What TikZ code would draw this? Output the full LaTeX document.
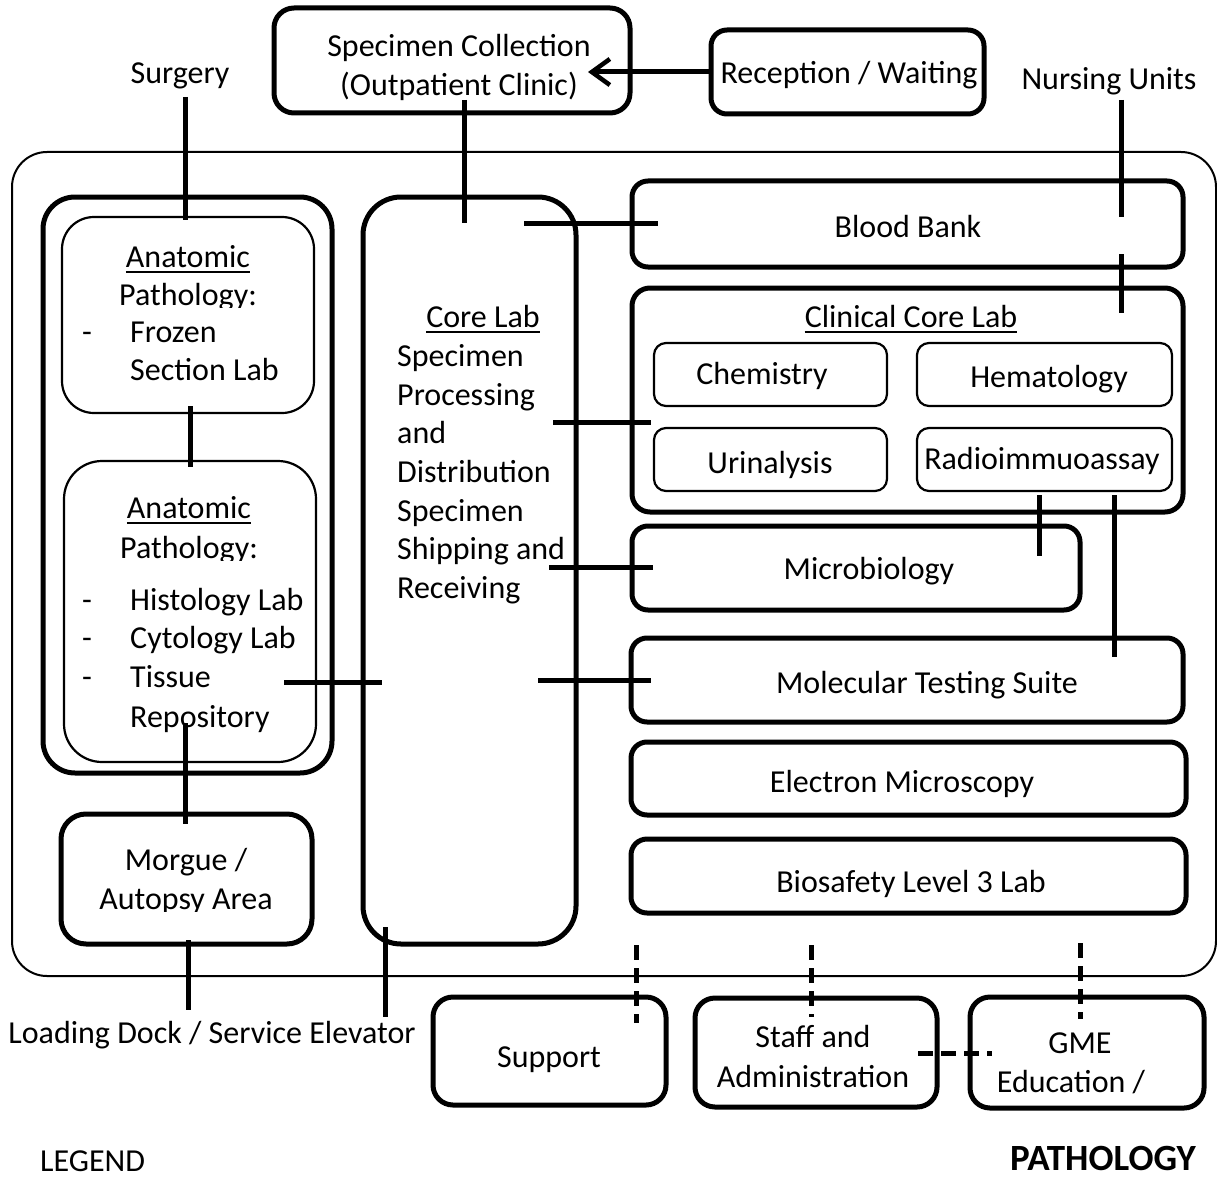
\documentclass[tikz,border=0pt]{standalone}
\usepackage{fontspec}
\setmainfont{Carlito}
\usetikzlibrary{arrows.meta}
\tikzset{
  thickbox/.style={draw, line width=5pt, inner sep=0pt, outer sep=0pt, anchor=north west},
  thinbox/.style={draw, line width=2.2pt, inner sep=0pt, outer sep=0pt, anchor=north west},
  conn/.style={line width=5pt},
  dconn/.style={line width=5pt, dash pattern=on 15pt off 8pt},
  txt/.style={inner sep=0pt, font=\fontsize{32}{39}\selectfont, anchor=base},
  txtl/.style={txt, anchor=base west},
  uline/.style={line width=2pt},
}
\begin{document}
\begin{tikzpicture}[x=1pt,y=-1pt]
\useasboundingbox (0,0) rectangle (1217,1185);
% ---------- boxes ----------
\node[draw, line width=2pt, inner sep=0pt, outer sep=0pt, anchor=north west, rounded corners=35pt, minimum width=1204pt, minimum height=824pt] (outer) at (12,152) {};
\node[thickbox, rounded corners=20pt, minimum width=356pt, minimum height=105pt] (spec) at (274,8) {};
\node[thickbox, rounded corners=16pt, minimum width=273pt, minimum height=84pt] (recep) at (711,30) {};
\node[thickbox, rounded corners=32pt, minimum width=289pt, minimum height=576pt] (leftgrp) at (43,197) {};
\node[thinbox, rounded corners=32pt, minimum width=252pt, minimum height=196pt] (anat1) at (62,217) {};
\node[thinbox, rounded corners=38pt, minimum width=252pt, minimum height=301pt] (anat2) at (64,461) {};
\node[thickbox, rounded corners=25pt, minimum width=251pt, minimum height=130pt] (morgue) at (61,814) {};
\node[thickbox, rounded corners=38pt, minimum width=213pt, minimum height=747pt] (core) at (363,197) {};
\node[thickbox, rounded corners=16pt, minimum width=551pt, minimum height=86pt] (blood) at (632,181) {};
\node[thickbox, rounded corners=18pt, minimum width=551pt, minimum height=224pt] (clin) at (632,288) {};
\node[thinbox, rounded corners=12pt, minimum width=233pt, minimum height=63pt] (chem) at (654,343) {};
\node[thinbox, rounded corners=12pt, minimum width=255pt, minimum height=63pt] (hema) at (917,343) {};
\node[thinbox, rounded corners=12pt, minimum width=233pt, minimum height=63pt] (urin) at (654,428) {};
\node[thinbox, rounded corners=12pt, minimum width=255pt, minimum height=63pt] (radio) at (917,428) {};
\node[thickbox, rounded corners=16pt, minimum width=448pt, minimum height=84pt] (micro) at (632,526) {};
\node[thickbox, rounded corners=16pt, minimum width=552pt, minimum height=84pt] (molec) at (631,638) {};
\node[thickbox, rounded corners=16pt, minimum width=555pt, minimum height=73pt] (elec) at (631,742) {};
\node[thickbox, rounded corners=16pt, minimum width=555pt, minimum height=74pt] (bio) at (631,839) {};
\node[thickbox, rounded corners=20pt, minimum width=233pt, minimum height=108pt] (support) at (433,997) {};
\node[thickbox, rounded corners=20pt, minimum width=242pt, minimum height=109pt] (staff) at (695,998) {};
\node[thickbox, rounded corners=20pt, minimum width=234pt, minimum height=111pt] (gme) at (970,997) {};
% ---------- texts ----------
\node[txt] (tSurgery) at (180,84) {Surgery};
\node[txt] (tSpec1) at (459,57) {Specimen Collection};
\node[txt] (tSpec2) at (459,96) {(Outpatient Clinic)};
\node[txt] (tRecep) at (849,84) {Reception / Waiting};
\node[txt] (tNurs) at (1109,90) {Nursing Units};
\node[txt] (tBlood) at (908,237) {Blood Bank};
\node[txt] (tClin) at (911,327) {Clinical Core Lab};
\draw[uline] ([yshift=-5pt]tClin.base west) -- ([yshift=-5pt]tClin.base east);
\node[txt] (tChem) at (762,384) {Chemistry};
\node[txt] (tHema) at (1049,387) {Hematology};
\node[txt] (tUrin) at (770,473) {Urinalysis};
\node[txt] (tRadio) at (1042,469) {Radioimmuoassay};
\node[txt] (tMicro) at (869,579) {Microbiology};
\node[txt] (tMolec) at (927,693) {Molecular Testing Suite};
\node[txt] (tElec) at (902,792) {Electron Microscopy};
\node[txt] (tBio) at (911,892) {Biosafety Level 3 Lab};
\node[txt] (tSupport) at (549,1067) {Support};
\node[txt] (tStaff1) at (813,1047) {Staff and};
\node[txt] (tStaff2) at (813,1087) {Administration};
\node[txt] (tGme1) at (1080,1053) {GME};
\node[txt] (tGme2) at (1071,1092) {Education /};
\node[txt, anchor=base east, font=\fontsize{37}{44}\selectfont\bfseries] (tPath) at (1196,1170) {PATHOLOGY};
\node[txtl] (tLegend) at (40,1171) {LEGEND};
\node[txt] (tLoad) at (212,1043) {Loading Dock / Service Elevator};
\node[txt] (tMorg1) at (186,870) {Morgue /};
\begin{scope}
\clip (0,0) rectangle (1217,911);
\node[txt] (tMorg2) at (186,909) {Autopsy Area};
\end{scope}
% anatomic 1
\node[txt] (tAn1a) at (188,267) {Anatomic};
\draw[uline] ([yshift=-5pt]tAn1a.base west) -- ([yshift=-5pt]tAn1a.base east);
\begin{scope}
\clip (0,0) rectangle (1217,307);
\node[txt] (tAn1b) at (188,305) {Pathology:};
\end{scope}
\node[txt] (tAn1c) at (87,342) {-};
\node[txtl] (tAn1d) at (130,342) {Frozen};
\node[txtl] (tAn1e) at (130,380) {Section Lab};
% anatomic 2
\node[txt] (tAn2a) at (189,518) {Anatomic};
\draw[uline] ([yshift=-5pt]tAn2a.base west) -- ([yshift=-5pt]tAn2a.base east);
\begin{scope}
\clip (0,0) rectangle (1217,560);
\node[txt] (tAn2b) at (189,558) {Pathology:};
\end{scope}
\node[txt] (tAn2c) at (87,610) {-};
\node[txtl] (tAn2d) at (130,610) {Histology Lab};
\node[txt] (tAn2e) at (87,648) {-};
\node[txtl] (tAn2f) at (130,648) {Cytology Lab};
\node[txt] (tAn2g) at (87,687) {-};
\node[txtl] (tAn2h) at (130,687) {Tissue};
\node[txtl] (tAn2i) at (130,727) {Repository};
% core lab
\node[txt] (tCore) at (483,327) {Core Lab};
\draw[uline] ([yshift=-5pt]tCore.base west) -- ([yshift=-5pt]tCore.base east);
\node[txtl] (tCore1) at (397,366) {Specimen};
\node[txtl] (tCore2) at (397,405) {Processing};
\node[txtl] (tCore3) at (397,443) {and};
\node[txtl] (tCore4) at (397,482) {Distribution};
\node[txtl] (tCore5) at (397,521) {Specimen};
\node[txtl] (tCore6) at (397,559) {Shipping and};
\node[txtl] (tCore7) at (397,598) {Receiving};
% ---------- connector end points ----------
\coordinate (cSurg) at (185,97);
\coordinate (cSurgIn) at (185,220);
\coordinate (cSpec) at (464,100);
\coordinate (cSpecIn) at (464,223);
\coordinate (cArrow) at (588,72);
\coordinate (cNurs) at (1121,100);
\coordinate (cNursIn) at (1121,217);
\coordinate (cBBout) at (1121,254);
\coordinate (cBBin) at (1121,313);
\coordinate (cCoreBB) at (524,223);
\coordinate (cBBcore) at (658,223);
\coordinate (cCoreCl) at (553,422);
\coordinate (cClCore) at (651,422);
\coordinate (cCoreMi) at (549,567);
\coordinate (cMiCore) at (653,567);
\coordinate (cCoreMo) at (538,680);
\coordinate (cMoCore) at (651,680);
\coordinate (cAnCore) at (284,682);
\coordinate (cCoreAn) at (382,682);
\coordinate (cA1) at (190,406);
\coordinate (cA2) at (190,467);
\coordinate (cA2m) at (185,723);
\coordinate (cMa) at (185,824);
\coordinate (cMb) at (188,940);
\coordinate (cLoad) at (188,1010);
\coordinate (cCoreE) at (385,927);
\coordinate (cElev) at (385,1017);
\coordinate (cRa) at (1039,495);
\coordinate (cRaMi) at (1039,556);
\coordinate (cRb) at (1114,495);
\coordinate (cRbMo) at (1114,657);
\coordinate (dSup1) at (636,945);
\coordinate (dSup2) at (636,1023);
\coordinate (dSta1) at (811,945);
\coordinate (dSta2) at (811,1017);
\coordinate (dGme1) at (1080,943);
\coordinate (dGme2) at (1080,1019);
\coordinate (dH1) at (918,1053);
\coordinate (dH2) at (992,1053);
% ---------- connectors ----------
\draw[conn] (cSurg) -- (cSurgIn);
\draw[conn] (cSpec) -- (cSpecIn);
\draw[conn, -{Straight Barb[length=18pt,width=26pt,line width=4.5pt]}] (recep.west) -- (cArrow);
\draw[conn] (cNurs) -- (cNursIn);
\draw[conn] (cBBout) -- (cBBin);
\draw[conn] (cCoreBB) -- (cBBcore);
\draw[conn] (cCoreCl) -- (cClCore);
\draw[conn] (cCoreMi) -- (cMiCore);
\draw[conn] (cCoreMo) -- (cMoCore);
\draw[conn] (cAnCore) -- (cCoreAn);
\draw[conn] (cA1) -- (cA2);
\draw[conn] (cA2m) -- (cMa);
\draw[conn] (cMb) -- (cLoad);
\draw[conn] (cCoreE) -- (cElev);
\draw[conn] (cRa) -- (cRaMi);
\draw[conn] (cRb) -- (cRbMo);
\draw[dconn] (dSup1) -- (dSup2);
\draw[dconn] (dSta1) -- (dSta2);
\draw[dconn] (dGme1) -- (dGme2);
\draw[dconn] (dH1) -- (dH2);
\end{tikzpicture}
\end{document}
